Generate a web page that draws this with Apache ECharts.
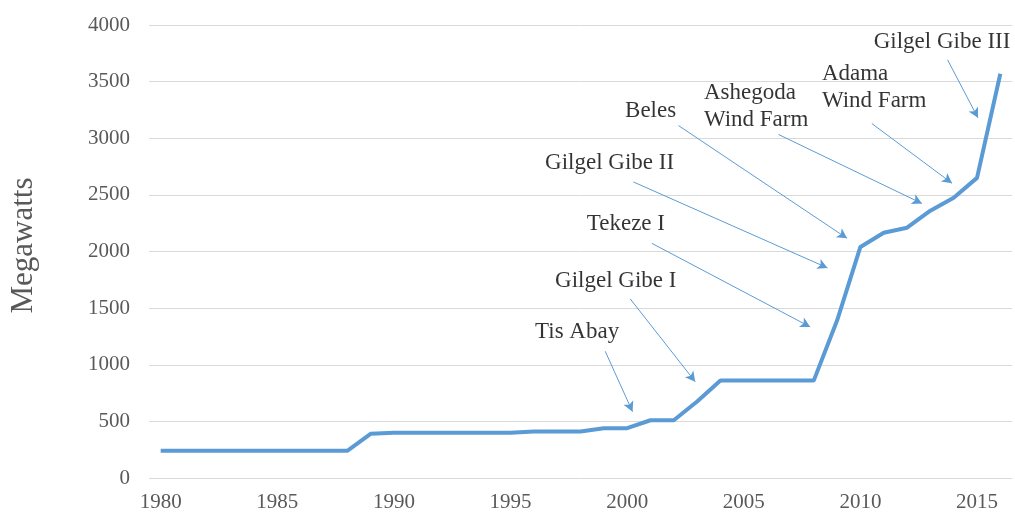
<!DOCTYPE html>
<html>
<head>
<meta charset="utf-8">
<script src="https://cdn.jsdelivr.net/npm/echarts@6/dist/echarts.min.js"></script>
<style>html,body{margin:0;padding:0;background:#fff}#c{width:1015px;height:513px}</style>
</head>
<body>
<div id="c"></div>
<script>
var years = [];
for (var y = 1980; y <= 2016; y++) years.push(String(y));
var megawatts = [240,240,240,240,240,240,240,240,240,390,400,400,400,400,400,400,410,410,410,440,440,510,510,675,860,860,860,860,860,1390,2040,2165,2210,2360,2475,2650,3570];

// annotation text anchors (left edge, vertical middle) in [year, MW]
var annoNames = ['Tis Abay','Gilgel Gibe I','Tekeze I','Gilgel Gibe II','Beles','Ashegoda\nWind Farm','Adama\nWind Farm','Gilgel Gibe III'];
var annoText = [[1996.05,1290],[1996.91,1743],[1998.27,2242],[1996.48,2784],[1999.91,3244],[2003.29,3279],[2008.35,3451],[2010.57,3853]];
var arrowTail = [[1999.06,1119],[2000.13,1582],[2001.06,2072],[2000.27,2614],[2002.20,3112],[2006.49,3033],[2010.49,3130],[2013.74,3692]];
var arrowHead = [[2000.23,586],[2002.92,850],[2007.85,1334],[2008.59,1855],[2009.43,2116],[2012.64,2424],[2013.93,2602],[2015.04,3180]];

var serif = "'Times New Roman','Liberation Serif',serif";
var blue = '#5B9BD5';

var chart = echarts.init(document.getElementById('c'), null, {renderer: 'canvas'});
chart.setOption({
  animation: false,
  grid: {left: 149, right: 3, top: 25, bottom: 33, containLabel: false},
  xAxis: [{
    type: 'category', data: years, boundaryGap: true,
    axisLine: {show: false}, axisTick: {show: false},
    axisLabel: {interval: 4, color: '#595959', fontFamily: serif, fontSize: 21, margin: 14}
  }, {
    type: 'value', min: 1979.5, max: 2016.5, show: false
  }],
  yAxis: {
    type: 'value', min: 0, max: 4000, interval: 500,
    name: 'Megawatts', nameLocation: 'middle', nameGap: 110,
    nameTextStyle: {color: '#595959', fontFamily: serif, fontSize: 31, padding: [0, 0, 0, 12]},
    axisLine: {show: false}, axisTick: {show: false},
    axisLabel: {color: '#595959', fontFamily: serif, fontSize: 21, margin: 19,
      formatter: function (v) { return String(v); }},
    splitLine: {lineStyle: {color: '#d9d9d9', width: 1}}
  },
  series: [{
    type: 'line', data: megawatts, symbol: 'none',
    lineStyle: {color: blue, width: 4}, z: 3
  }, {
    type: 'scatter', xAxisIndex: 1, symbolSize: 0,
    data: annoNames.map(function (n, i) { return {name: n, value: annoText[i]}; }),
    label: {
      show: true, position: 'inside', align: 'left', verticalAlign: 'middle',
      formatter: '{b}', color: '#000', fontFamily: serif, fontSize: 23, lineHeight: 27
    },
    itemStyle: {color: 'rgba(0,0,0,0)'},
    markLine: {
      silent: true, symbol: ['none', 'arrow'], symbolSize: [8, 10],
      lineStyle: {color: blue, width: 1, type: 'solid'},
      label: {show: false},
      data: arrowTail.map(function (t, i) { return [{coord: t}, {coord: arrowHead[i]}]; })
    },
    z: 4
  }]
});
</script>
</body>
</html>
